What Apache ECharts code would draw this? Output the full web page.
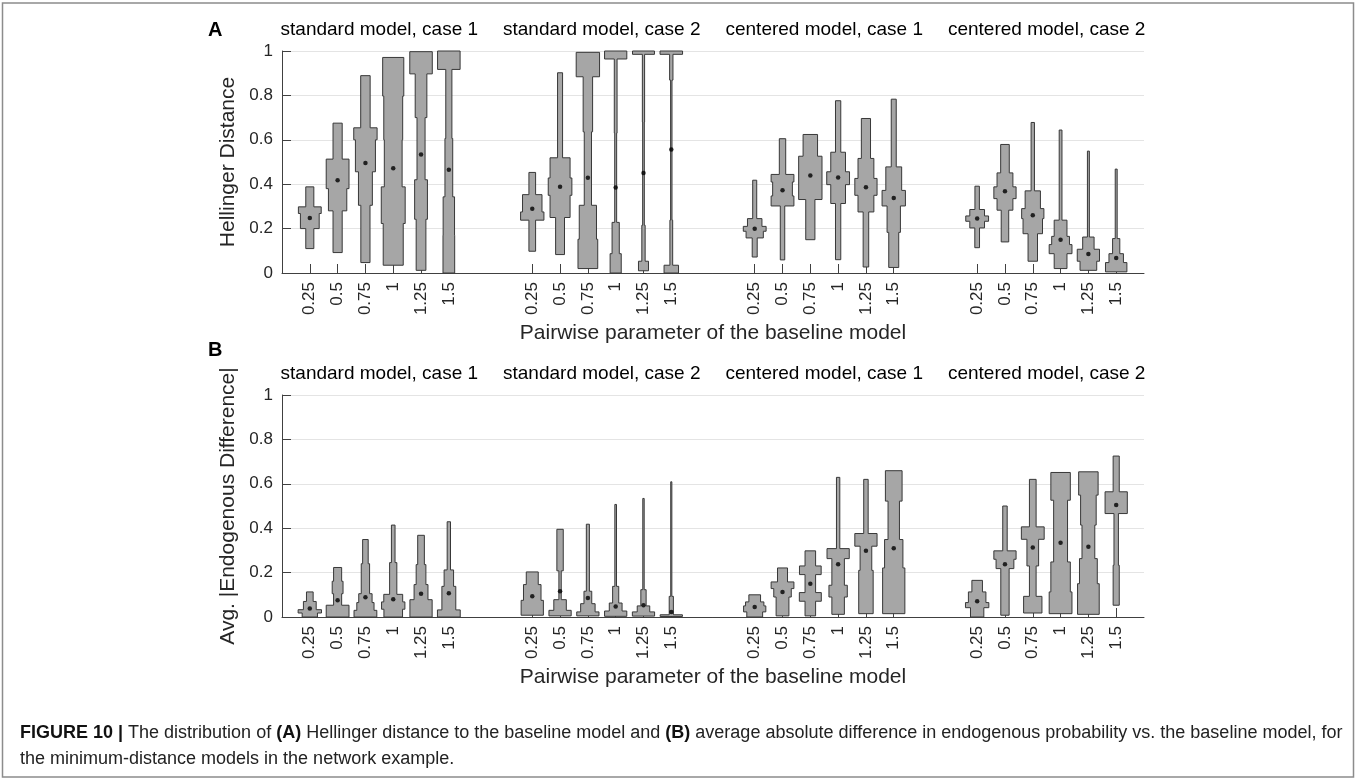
<!DOCTYPE html>
<html>
<head>
<meta charset="utf-8">
<script src="https://cdn.jsdelivr.net/npm/echarts@6.0.0/dist/echarts.min.js"></script>
<style>
	html, body { margin: 0; padding: 0; background: #fff; }
	#violins { width: 1357px; height: 780px; }
</style>
</head>
<body>
<div id="violins"></div>
<script>
var categories = ['0.25', '0.5', '0.75', '1', '1.25', '1.5'];
var groupTitles = ['standard model, case 1', 'standard model, case 2', 'centered model, case 1', 'centered model, case 2'];

// histogram bins per violin: [low, high, width]
var hdStandard1 = [
	[[0.11, 0.2, 0.29], [0.2, 0.268, 0.675], [0.268, 0.298, 0.82], [0.298, 0.388, 0.29]],
	[[0.092, 0.28, 0.33], [0.28, 0.38, 0.66], [0.38, 0.513, 0.82], [0.513, 0.675, 0.33]],
	[[0.047, 0.305, 0.33], [0.305, 0.456, 0.5], [0.456, 0.6, 0.72], [0.6, 0.654, 0.84], [0.654, 0.889, 0.34]],
	[[0.035, 0.223, 0.72], [0.223, 0.388, 0.86], [0.388, 0.6, 0.64], [0.6, 0.797, 0.68], [0.797, 0.971, 0.76]],
	[[0.012, 0.242, 0.35], [0.242, 0.42, 0.46], [0.42, 0.7, 0.29], [0.7, 0.897, 0.42], [0.897, 0.997, 0.81]],
	[[0, 0.17, 0.42], [0.17, 0.343, 0.41], [0.343, 0.606, 0.28], [0.606, 0.917, 0.22], [0.917, 1.0, 0.81]]
];
var hdStandard2 = [
	[[0.098, 0.238, 0.24], [0.238, 0.275, 0.84], [0.275, 0.353, 0.7], [0.353, 0.453, 0.24]],
	[[0.083, 0.25, 0.32], [0.25, 0.35, 0.72], [0.35, 0.428, 0.85], [0.428, 0.519, 0.72], [0.519, 0.902, 0.18]],
	[[0.02, 0.152, 0.71], [0.152, 0.305, 0.62], [0.305, 0.636, 0.26], [0.636, 0.884, 0.34], [0.884, 0.994, 0.84]],
	[[0, 0.087, 0.4], [0.087, 0.228, 0.26], [0.228, 0.63, 0.07], [0.63, 0.964, 0.1], [0.964, 1.0, 0.8]],
	[[0.01, 0.053, 0.36], [0.053, 0.215, 0.12], [0.215, 0.68, 0.06], [0.68, 0.985, 0.08], [0.985, 1.0, 0.79]],
	[[0, 0.035, 0.52], [0.035, 0.238, 0.1], [0.238, 0.869, 0.05], [0.869, 0.985, 0.12], [0.985, 1.0, 0.81]]
];
var hdCentered1 = [
	[[0.072, 0.158, 0.18], [0.158, 0.188, 0.62], [0.188, 0.21, 0.82], [0.21, 0.245, 0.52], [0.245, 0.418, 0.145]],
	[[0.059, 0.302, 0.16], [0.302, 0.347, 0.82], [0.347, 0.41, 0.71], [0.41, 0.444, 0.82], [0.444, 0.605, 0.23]],
	[[0.15, 0.331, 0.33], [0.331, 0.526, 0.84], [0.526, 0.624, 0.52]],
	[[0.06, 0.313, 0.19], [0.313, 0.398, 0.53], [0.398, 0.456, 0.82], [0.456, 0.544, 0.53], [0.544, 0.776, 0.19]],
	[[0.027, 0.275, 0.2], [0.275, 0.35, 0.57], [0.35, 0.426, 0.8], [0.426, 0.516, 0.57], [0.516, 0.696, 0.33]],
	[[0.025, 0.183, 0.36], [0.183, 0.302, 0.48], [0.302, 0.372, 0.84], [0.372, 0.478, 0.57], [0.478, 0.783, 0.18]]
];
var hdCentered2 = [
	[[0.114, 0.203, 0.17], [0.203, 0.233, 0.53], [0.233, 0.257, 0.82], [0.257, 0.286, 0.53], [0.286, 0.391, 0.16]],
	[[0.14, 0.283, 0.27], [0.283, 0.335, 0.57], [0.335, 0.388, 0.8], [0.388, 0.451, 0.57], [0.451, 0.579, 0.31]],
	[[0.053, 0.177, 0.34], [0.177, 0.245, 0.7], [0.245, 0.29, 0.8], [0.29, 0.37, 0.55], [0.37, 0.678, 0.12]],
	[[0.02, 0.087, 0.46], [0.087, 0.128, 0.82], [0.128, 0.165, 0.64], [0.165, 0.238, 0.46], [0.238, 0.644, 0.1]],
	[[0.012, 0.053, 0.6], [0.053, 0.107, 0.8], [0.107, 0.162, 0.41], [0.162, 0.549, 0.07]],
	[[0.005, 0.047, 0.77], [0.047, 0.087, 0.52], [0.087, 0.155, 0.26], [0.155, 0.468, 0.07]]
];
var hdMedians = [
	[0.248, 0.418, 0.496, 0.472, 0.534, 0.465],
	[0.289, 0.389, 0.429, 0.385, 0.451, 0.556],
	[0.199, 0.373, 0.439, 0.43, 0.386, 0.338],
	[0.245, 0.368, 0.26, 0.15, 0.086, 0.068]
];

var edStandard1 = [
	[[0, 0.018, 0.55], [0.018, 0.033, 0.84], [0.033, 0.07, 0.46], [0.07, 0.113, 0.24]],
	[[0, 0.053, 0.82], [0.053, 0.105, 0.29], [0.105, 0.161, 0.39], [0.161, 0.223, 0.29]],
	[[0, 0.03, 0.82], [0.03, 0.065, 0.62], [0.065, 0.105, 0.48], [0.105, 0.24, 0.3], [0.24, 0.349, 0.2]],
	[[0, 0.035, 0.67], [0.035, 0.068, 0.84], [0.068, 0.102, 0.68], [0.102, 0.245, 0.26], [0.245, 0.414, 0.13]],
	[[0, 0.078, 0.8], [0.078, 0.146, 0.5], [0.146, 0.236, 0.35], [0.236, 0.368, 0.24]],
	[[0, 0.032, 0.82], [0.032, 0.138, 0.5], [0.138, 0.212, 0.34], [0.212, 0.429, 0.12]]
];
var edStandard2 = [
	[[0.008, 0.075, 0.8], [0.075, 0.146, 0.63], [0.146, 0.203, 0.43]],
	[[0.005, 0.03, 0.8], [0.03, 0.078, 0.45], [0.078, 0.208, 0.085], [0.208, 0.395, 0.23]],
	[[0.005, 0.023, 0.8], [0.023, 0.06, 0.52], [0.06, 0.116, 0.28], [0.116, 0.418, 0.11]],
	[[0.003, 0.027, 0.8], [0.027, 0.063, 0.46], [0.063, 0.138, 0.22], [0.138, 0.507, 0.06]],
	[[0.004, 0.023, 0.8], [0.023, 0.05, 0.45], [0.05, 0.123, 0.19], [0.123, 0.534, 0.05]],
	[[0.002, 0.01, 0.8], [0.01, 0.093, 0.15], [0.093, 0.609, 0.04]]
];
var edCentered1 = [
	[[0, 0.023, 0.57], [0.023, 0.05, 0.8], [0.05, 0.068, 0.66], [0.068, 0.1, 0.42]],
	[[0.005, 0.09, 0.46], [0.09, 0.128, 0.63], [0.128, 0.158, 0.82], [0.158, 0.221, 0.36]],
	[[0.005, 0.071, 0.38], [0.071, 0.11, 0.79], [0.11, 0.191, 0.38], [0.191, 0.23, 0.78], [0.23, 0.298, 0.38]],
	[[0.012, 0.09, 0.45], [0.09, 0.143, 0.66], [0.143, 0.263, 0.45], [0.263, 0.308, 0.8], [0.308, 0.629, 0.12]],
	[[0.015, 0.21, 0.52], [0.21, 0.319, 0.42], [0.319, 0.376, 0.8], [0.376, 0.62, 0.16]],
	[[0.015, 0.221, 0.8], [0.221, 0.349, 0.66], [0.349, 0.522, 0.41], [0.522, 0.659, 0.6]]
];
var edCentered2 = [
	[[0, 0.042, 0.48], [0.042, 0.065, 0.84], [0.065, 0.113, 0.63], [0.113, 0.165, 0.38]],
	[[0.008, 0.218, 0.3], [0.218, 0.26, 0.64], [0.26, 0.298, 0.8], [0.298, 0.5, 0.16]],
	[[0.018, 0.093, 0.66], [0.093, 0.23, 0.24], [0.23, 0.35, 0.42], [0.35, 0.406, 0.82], [0.406, 0.62, 0.24]],
	[[0.015, 0.113, 0.82], [0.113, 0.248, 0.7], [0.248, 0.526, 0.5], [0.526, 0.651, 0.7]],
	[[0.012, 0.15, 0.78], [0.15, 0.263, 0.64], [0.263, 0.414, 0.46], [0.414, 0.549, 0.56], [0.549, 0.654, 0.7]],
	[[0.053, 0.233, 0.22], [0.233, 0.466, 0.16], [0.466, 0.564, 0.8], [0.564, 0.725, 0.22]]
];
var edMedians = [
	[0.038, 0.075, 0.089, 0.08, 0.105, 0.107],
	[0.093, 0.116, 0.086, 0.047, 0.053, 0.023],
	[0.045, 0.113, 0.15, 0.238, 0.298, 0.31],
	[0.071, 0.238, 0.313, 0.335, 0.316, 0.504]
];

var hdGroups = [hdStandard1, hdStandard2, hdCentered1, hdCentered2];
var edGroups = [edStandard1, edStandard2, edCentered1, edCentered2];

var textColor = '#262626';
var fontName = '"Liberation Sans", Arial, Helvetica, sans-serif';

// x position of violin c in group g (groups are 8 units apart)
function xPos(g, c) {
	return g * 8 + c + 1;
}

var tickValues = [];
for (var g = 0; g < 4; g++) {
	for (var c = 0; c < categories.length; c++) {
		tickValues.push(xPos(g, c));
	}
}

function violinData(groups) {
	var res = [];
	for (var g = 0; g < groups.length; g++) {
		for (var c = 0; c < groups[g].length; c++) {
			res.push([xPos(g, c), 0.5, g, c]);
		}
	}
	return res;
}

function medianData(medians) {
	var res = [];
	for (var g = 0; g < medians.length; g++) {
		for (var c = 0; c < medians[g].length; c++) {
			res.push([xPos(g, c), medians[g][c]]);
		}
	}
	return res;
}

function violinRender(groups) {
	return function(params, api) {
		var bins = groups[api.value(2)][api.value(3)];
		var x = api.value(0);
		var pts = [];
		var i;
		for (i = 0; i < bins.length; i++) {
			pts.push(api.coord([x + bins[i][2] / 2, bins[i][0]]));
			pts.push(api.coord([x + bins[i][2] / 2, bins[i][1]]));
		}
		for (i = bins.length - 1; i >= 0; i--) {
			pts.push(api.coord([x - bins[i][2] / 2, bins[i][1]]));
			pts.push(api.coord([x - bins[i][2] / 2, bins[i][0]]));
		}
		return {
			type: 'polygon',
			shape: { points: pts },
			style: { fill: '#a6a6a6', stroke: '#383838', lineWidth: 1 }
		};
	};
}

function xAxisFor(idx) {
	return {
		type: 'value',
		gridIndex: idx,
		min: 0,
		max: 31,
		name: 'Pairwise parameter of the baseline model',
		nameLocation: 'middle',
		nameGap: 50,
		nameTextStyle: { fontSize: 21, color: textColor, fontFamily: fontName },
		axisLine: { lineStyle: { color: '#404040', width: 1 } },
		axisTick: { inside: true, length: 9, customValues: tickValues, lineStyle: { color: '#404040' } },
		axisLabel: {
			customValues: tickValues,
			rotate: 90,
			margin: 9,
			fontSize: 17,
			color: textColor,
			fontFamily: fontName,
			formatter: function(v) {
				return categories[(Math.round(v) - 1) % 8];
			}
		},
		splitLine: { show: false }
	};
}

function yAxisFor(idx, name) {
	return {
		type: 'value',
		gridIndex: idx,
		min: 0,
		max: 1,
		interval: 0.2,
		name: name,
		nameLocation: 'middle',
		nameGap: 39,
		nameTextStyle: { fontSize: 21, color: textColor, fontFamily: fontName },
		axisLine: { show: true, lineStyle: { color: '#404040', width: 1 } },
		axisTick: { show: true, inside: true, length: 9, lineStyle: { color: '#404040' } },
		axisLabel: { fontSize: 17, margin: 9, color: textColor, fontFamily: fontName },
		splitLine: { show: true, lineStyle: { color: '#e4e4e4', width: 1 } }
	};
}

var chart = echarts.init(document.getElementById('violins'));

var option = {
	animation: false,
	backgroundColor: '#fff',
	grid: [
		{ left: 282, right: 213, top: 51, height: 222 },
		{ left: 282, right: 213, top: 395, height: 222 }
	],
	xAxis: [xAxisFor(0), xAxisFor(1)],
	yAxis: [yAxisFor(0, 'Hellinger Distance'), yAxisFor(1, 'Avg. |Endogenous Difference|')],
	series: [
		{
			type: 'custom',
			xAxisIndex: 0,
			yAxisIndex: 0,
			renderItem: violinRender(hdGroups),
			encode: { x: 0, y: 1 },
			data: violinData(hdGroups),
			clip: false,
			silent: true
		},
		{
			type: 'scatter',
			xAxisIndex: 0,
			yAxisIndex: 0,
			symbolSize: 4.5,
			itemStyle: { color: '#000' },
			data: medianData(hdMedians),
			z: 5,
			silent: true
		},
		{
			type: 'custom',
			xAxisIndex: 1,
			yAxisIndex: 1,
			renderItem: violinRender(edGroups),
			encode: { x: 0, y: 1 },
			data: violinData(edGroups),
			clip: false,
			silent: true
		},
		{
			type: 'scatter',
			xAxisIndex: 1,
			yAxisIndex: 1,
			symbolSize: 4.5,
			itemStyle: { color: '#000' },
			data: medianData(edMedians),
			z: 5,
			silent: true
		}
	]
};
chart.setOption(option);

// group titles, panel letters, caption and frame
var elements = [];
var titleY = [30, 374];
for (var p = 0; p < 2; p++) {
	for (var t = 0; t < groupTitles.length; t++) {
		var px = chart.convertToPixel({ xAxisIndex: p }, xPos(t, 2.5));
		elements.push({
			type: 'text',
			x: px,
			y: titleY[p],
			style: {
				text: groupTitles[t],
				fontSize: 19,
				fontFamily: fontName,
				fill: '#000',
				align: 'center',
				verticalAlign: 'middle'
			}
		});
	}
}
elements.push({
	type: 'text', x: 208, y: 30,
	style: { text: 'A', fontSize: 20, fontWeight: 'bold', fontFamily: fontName, fill: '#000', verticalAlign: 'middle' }
});
elements.push({
	type: 'text', x: 208, y: 350,
	style: { text: 'B', fontSize: 20, fontWeight: 'bold', fontFamily: fontName, fill: '#000', verticalAlign: 'middle' }
});
elements.push({
	type: 'text', x: 20, y: 720,
	style: {
		text: '{b|FIGURE 10 |} The distribution of {b|(A)} Hellinger distance to the baseline model and {b|(B)} average absolute difference in endogenous probability vs. the baseline model, for\nthe minimum-distance models in the network example.',
		fontSize: 18,
		lineHeight: 26,
		fontFamily: fontName,
		fill: '#222',
		rich: { b: { fontWeight: 'bold', fontSize: 18, fontFamily: fontName, fill: '#111', lineHeight: 26 } }
	}
});
elements.push({
	type: 'rect',
	shape: { x: 2.5, y: 3, width: 1351, height: 774 },
	style: { fill: 'none', stroke: '#8c8c8c', lineWidth: 1.5 },
	silent: true
});
chart.setOption({ graphic: elements });
</script>
</body>
</html>
